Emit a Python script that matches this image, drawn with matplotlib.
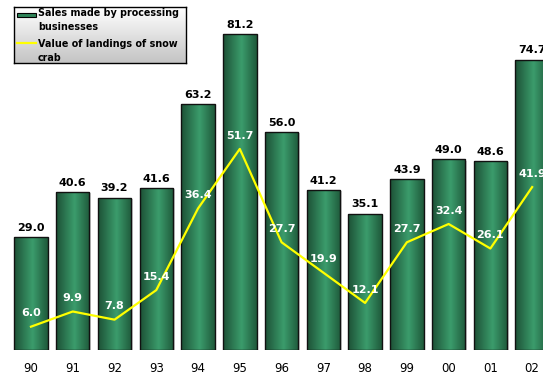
import numpy as np
import matplotlib.pyplot as plt
from matplotlib.colors import LinearSegmentedColormap
from matplotlib.patches import Rectangle
from matplotlib.lines import Line2D

years = ["90", "91", "92", "93", "94", "95", "96", "97", "98", "99", "00", "01", "02"]
sales = [29.0, 40.6, 39.2, 41.6, 63.2, 81.2, 56.0, 41.2, 35.1, 43.9, 49.0, 48.6, 74.7]
landings = [6.0, 9.9, 7.8, 15.4, 36.4, 51.7, 27.7, 19.9, 12.1, 27.7, 32.4, 26.1, 41.9]

W, H = 543, 375
fig = plt.figure(figsize=(W / 100, H / 100), dpi=100)
ax = fig.add_axes([0.0, 25 / H, 1.0, 350 / H])
x = np.arange(len(years))
width = 0.8

bar_cmap = LinearSegmentedColormap.from_list(
    "bar", [(0.0, "#1d5236"), (0.55, "#3b9c6c"), (1.0, "#1f5a3b")])
grad = np.linspace(0, 1, 64).reshape(1, -1)

bars = ax.bar(x, sales, width=width, facecolor="none", edgecolor="#111111",
              linewidth=1.0, zorder=3)
for rect in bars:
    x0, w, h = rect.get_x(), rect.get_width(), rect.get_height()
    # faint drop shadow to the right
    ax.add_patch(Rectangle((x0 + 0.04, 0), w, h - 0.3, facecolor="#d0d0d0",
                           edgecolor="none", zorder=1))
    im = ax.imshow(grad, cmap=bar_cmap, extent=(x0, x0 + w, 0, h),
                   aspect="auto", zorder=2, interpolation="bilinear")
    clip = Rectangle((x0, 0), w, h, transform=ax.transData)
    im.set_clip_path(clip)

ax.plot(x, landings, color="#ffff00", linewidth=1.6, zorder=4)

for xi, v in zip(x, sales):
    ax.annotate(f"{v:.1f}", (xi, v), xytext=(0, 3), textcoords="offset points",
                ha="center", va="bottom", fontsize=8, fontweight="bold",
                color="black", zorder=5)
for xi, v in zip(x, landings):
    ax.annotate(f"{v:.1f}", (xi, v), xytext=(0, 9.5), textcoords="offset points",
                ha="center", va="center", fontsize=8, fontweight="bold",
                color="white", zorder=5)

ax.set_xlim(-0.742, 12.26)
ax.set_ylim(0, 90)
ax.set_xticks(x)
ax.set_xticklabels(years, fontsize=8.5)
ax.tick_params(axis="x", length=0, pad=9)
ax.set_yticks([])
for s in ax.spines.values():
    s.set_visible(False)

# legend box (pixel layout) with a light vertical gradient
bx0, by0, bx1, by1 = 14, 7, 186, 63
lax = fig.add_axes([bx0 / W, 1 - by1 / H, (bx1 - bx0) / W, (by1 - by0) / H])
lax.imshow(np.linspace(1, 0, 64).reshape(-1, 1),
           cmap=LinearSegmentedColormap.from_list("lg", ["#c4c4c4", "#ffffff"]),
           extent=(bx0, bx1, by1, by0), aspect="auto")
lax.set_xlim(bx0, bx1)
lax.set_ylim(by1, by0)
lax.set_xticks([])
lax.set_yticks([])
for s in lax.spines.values():
    s.set_color("black")
    s.set_linewidth(1.0)
lax.add_patch(Rectangle((17, 12.5), 19, 4.5, facecolor="#2e8458",
                        edgecolor="black", linewidth=0.8))
lax.add_line(Line2D([17, 36], [43, 43], color="#ffff00", linewidth=1.6))
for y, t in [(13.5, "Sales made by processing"), (27.5, "businesses"),
             (44, "Value of landings of snow"), (58, "crab")]:
    lax.text(38, y, t, fontsize=6.9, fontweight="bold", va="center", ha="left")

fig.savefig("out.png", dpi=100)
